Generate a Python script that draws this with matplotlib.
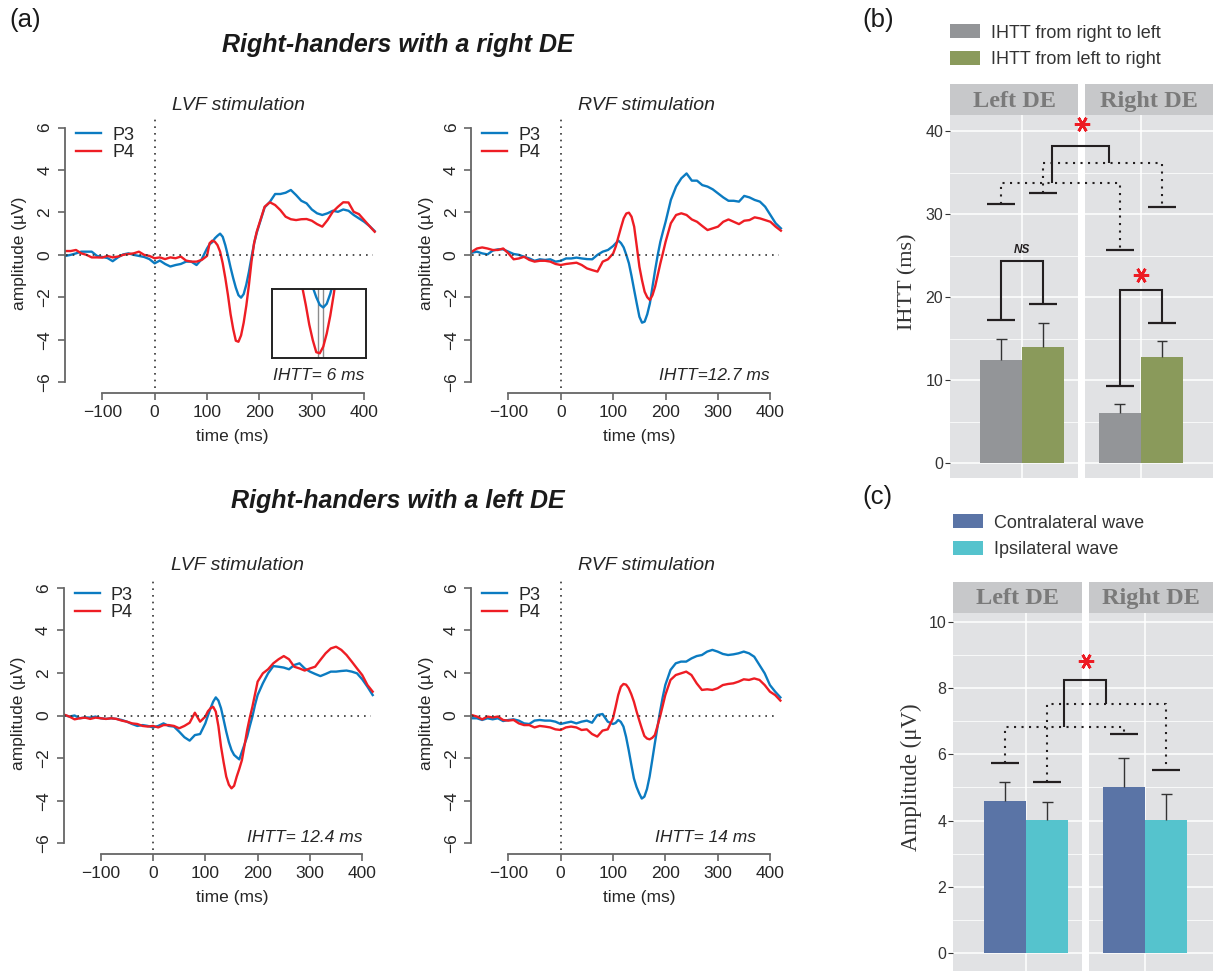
import numpy as np
import matplotlib
matplotlib.use('Agg')
import matplotlib.pyplot as plt

plt.rcParams['font.family'] = ['Liberation Sans', 'DejaVu Sans']

W, H = 1213, 971

# time axis (ms): 10 ms steps, 5 ms steps around the N1 trough
t_ms = list(range(-170, 100, 10)) + list(range(100, 205, 5)) + list(range(210, 430, 10))

# ---- ERP amplitudes (uV) ----
# right-handers, right DE, LVF stimulation
rde_lvf_p3 = [-0.05, 0.0, 0.07, 0.15, 0.15, 0.15, -0.05, -0.1, -0.15, -0.3, -0.12, 0.02, 0.07, 0.0,
              -0.05, -0.1, -0.2, -0.4, -0.27, -0.43, -0.55, -0.48, -0.43, -0.32, -0.32, -0.48, -0.2,
              0.3, 0.5, 0.6, 0.78, 0.9, 1.0, 0.85, 0.45, -0.05, -0.6, -1.1, -1.55, -1.9, -2.02, -1.85,
              -1.4, -0.8, -0.1, 0.55, 1.05, 1.45,
              2.24, 2.5, 2.87, 2.87, 2.93, 3.06, 2.82, 2.55, 2.43, 2.14, 1.96, 1.88, 1.96, 2.08, 2.03,
              2.14, 2.08, 1.88, 1.72, 1.56, 1.36, 1.12]
rde_lvf_p4 = [0.18, 0.18, 0.23, 0.07, 0.0, -0.12, -0.12, -0.13, -0.05, -0.12, -0.08, 0.0, 0.04, 0.07,
              0.15, 0.0, -0.05, -0.16, -0.12, -0.2, -0.12, -0.16, -0.08, -0.27, -0.32, -0.32, -0.24,
              -0.05, 0.55, 0.67, 0.62, 0.46, 0.15, -0.4, -1.1, -1.9, -2.8, -3.5, -4.05, -4.1, -3.8, -3.2,
              -2.4, -1.42, -0.3, 0.57, 1.1, 1.49,
              2.27, 2.48, 2.35, 2.11, 1.8, 1.68, 1.64, 1.68, 1.69, 1.61, 1.45, 1.33, 1.64, 2.03, 2.27,
              2.48, 2.47, 2.03, 1.92, 1.64, 1.36, 1.09]
# right-handers, right DE, RVF stimulation
rde_rvf_p3 = [0.1, 0.15, 0.07, 0.02, 0.2, 0.26, 0.26, 0.15, 0.04, 0.0, -0.09, -0.17, -0.28, -0.21,
              -0.24, -0.21, -0.32, -0.28, -0.17, -0.17, -0.13, -0.17, -0.2, -0.21, 0.0, 0.15, 0.23,
              0.42, 0.55, 0.67, 0.55, 0.35, 0.0, -0.4, -1.0, -1.66, -2.3, -2.92, -3.2, -3.15, -2.8, -2.29,
              -1.5, -0.72, 0.0, 0.62, 1.1, 1.56,
              2.59, 3.22, 3.61, 3.84, 3.5, 3.5, 3.29, 3.22, 3.09, 2.9, 2.71, 2.55, 2.55, 2.51, 2.78,
              2.71, 2.59, 2.51, 2.27, 1.88, 1.49, 1.25]
rde_rvf_p4 = [0.15, 0.3, 0.35, 0.3, 0.23, 0.23, 0.3, 0.07, -0.21, -0.17, -0.09, -0.24, -0.32, -0.28,
              -0.28, -0.32, -0.43, -0.48, -0.43, -0.4, -0.37, -0.48, -0.64, -0.72, -0.79, -0.32, -0.21,
              0.07, 0.4, 0.86, 1.3, 1.72, 1.95, 1.99, 1.8, 1.33, 0.4, -0.56, -1.2, -1.74, -2.0, -2.13,
              -1.9, -1.5, -0.95, -0.4, 0.1, 0.62,
              1.49, 1.88, 1.96, 1.88, 1.67, 1.56, 1.36, 1.17, 1.25, 1.33, 1.56, 1.67, 1.56, 1.45, 1.61,
              1.64, 1.77, 1.72, 1.64, 1.56, 1.33, 1.14]
# right-handers, left DE, LVF stimulation
lde_lvf_p3 = [0.02, -0.05, 0.0, -0.13, -0.09, -0.1, -0.05, -0.13, -0.16, -0.13, -0.16, -0.21, -0.29,
              -0.4, -0.49, -0.45, -0.49, -0.56, -0.49, -0.37, -0.49, -0.52, -0.76, -1.02, -1.18, -0.92,
              -0.87,
              -0.37, 0.0, 0.34, 0.65, 0.85, 0.7, 0.34, -0.2, -0.76, -1.25, -1.62, -1.85, -1.96, -2.06,
              -1.7, -1.35, -0.99, -0.5, -0.05, 0.5, 0.96,
              1.51, 1.98, 2.32, 2.29, 2.25, 2.17, 2.37, 2.45, 2.21, 2.06, 1.95, 1.85, 1.95, 2.06, 2.06,
              2.09, 2.11, 2.06, 1.98, 1.7, 1.35, 0.96]
lde_lvf_p4 = [0.04, -0.05, -0.18, -0.13, -0.1, -0.16, -0.1, -0.13, -0.16, -0.13, -0.16, -0.24, -0.29,
              -0.37, -0.4, -0.49, -0.52, -0.49, -0.56, -0.45, -0.45, -0.49, -0.6, -0.49, -0.34, 0.13,
              -0.29,
              -0.05, 0.2, 0.34, 0.41, 0.18, -0.5, -1.46, -2.2, -2.87, -3.25, -3.42, -3.3, -2.87, -2.5,
              -2.09, -1.4, -0.68, -0.1, 0.41, 1.0, 1.59,
              1.98, 2.17, 2.45, 2.64, 2.79, 2.64, 2.29, 2.21, 2.11, 2.21, 2.29, 2.61, 2.92, 3.15, 3.23,
              3.08, 2.84, 2.53, 2.21, 1.9, 1.43, 1.12]
# right-handers, left DE, RVF stimulation
lde_rvf_p3 = [-0.13, -0.13, -0.21, -0.13, -0.18, -0.13, -0.26, -0.21, -0.18, -0.24, -0.37, -0.4,
              -0.24, -0.21, -0.24, -0.24, -0.29, -0.4, -0.34, -0.29, -0.37, -0.29, -0.24, -0.34, 0.02,
              0.07, -0.29,
              -0.4, -0.35, -0.21, -0.3, -0.52, -1.0, -1.62, -2.3, -2.95, -3.35, -3.65, -3.9, -3.81,
              -3.45, -2.87, -2.1, -1.31, -0.55, 0.18, 0.85, 1.43,
              2.14, 2.45, 2.53, 2.53, 2.68, 2.79, 2.84, 3.0, 3.08, 3.0, 2.89, 2.84, 2.87, 2.92, 3.0,
              2.92, 2.76, 2.37, 1.98, 1.43, 1.12, 0.85]
lde_rvf_p4 = [0.02, -0.05, -0.18, -0.05, -0.09, -0.05, -0.21, -0.24, -0.21, -0.37, -0.45, -0.45,
              -0.56, -0.49, -0.52, -0.56, -0.65, -0.68, -0.56, -0.52, -0.56, -0.68, -0.65, -0.87,
              -0.99, -0.71, -0.65,
              -0.13, 0.4, 0.96, 1.35, 1.48, 1.45, 1.28, 1.0, 0.65, 0.2, -0.21, -0.6, -0.96, -1.08,
              -1.12, -1.05, -0.92, -0.5, -0.05, 0.45, 0.96,
              1.67, 1.9, 1.98, 2.06, 1.9, 1.51, 1.2, 1.23, 1.2, 1.28, 1.43, 1.48, 1.51, 1.59, 1.7,
              1.67, 1.74, 1.67, 1.43, 1.12, 0.96, 0.7]

ihtt_labels = ['IHTT= 6 ms', 'IHTT=12.7 ms', 'IHTT= 12.4 ms', 'IHTT= 14 ms']
inset_peaks_ms = [158, 164]      # P4 / P3 trough latencies shown in the inset

# ---- (b) IHTT bars ----
groups = ['Left DE', 'Right DE']
ihtt_r2l = [12.4, 6.0]
ihtt_r2l_err = [2.6, 1.1]
ihtt_l2r = [14.0, 12.75]
ihtt_l2r_err = [2.85, 2.0]

# ---- (c) amplitude bars ----
amp_contra = [4.59, 5.01]
amp_contra_err = [0.57, 0.87]
amp_ipsi = [4.01, 4.03]
amp_ipsi_err = [0.56, 0.76]

BLUE, RED = '#0b7bc1', '#ee1d24'
AXC, TXT = '#666666', '#262626'
PANEL_BG, STRIP_BG, STRIP_TXT = '#e1e2e4', '#c7c8ca', '#7a7a7a'
INK = '#231f20'
DOT = (0, (1, 2.6))

fig = plt.figure(figsize=(W / 100, H / 100), dpi=100)


def px_axes(l, t, r, b):
    return fig.add_axes([l / W, 1 - b / H, (r - l) / W, (b - t) / H])


def px_text(x, y, s, **kw):
    return fig.text(x / W, 1 - y / H, s, **kw)


def erp_panel(box, p3, p4):
    ax = px_axes(*box)
    ax.plot(t_ms, p3, color=BLUE, lw=1.7, label='P3')
    ax.plot(t_ms, p4, color=RED, lw=1.7, label='P4')
    ax.vlines(0, -6.3, 6.5, color='#333333', lw=1.2, ls=(0, (1, 3)))
    ax.hlines(0, -170, 416, color='#333333', lw=1.2, ls=(0, (1, 3)))
    ax.set_xlim(-171, 425)
    ax.set_ylim(-6.5, 6.5)
    for s in ['top', 'right']:
        ax.spines[s].set_visible(False)
    ax.spines['left'].set_bounds(-6, 6)
    ax.spines['bottom'].set_bounds(-100, 400)
    for s in ['left', 'bottom']:
        ax.spines[s].set_color(AXC)
        ax.spines[s].set_linewidth(1.3)
    ax.set_xticks(range(-100, 401, 100))
    ax.set_yticks(range(-6, 7, 2))
    ax.tick_params(colors=AXC, labelcolor=TXT, labelsize=12.5, length=5, width=1.2, pad=4)
    for lbl in ax.get_yticklabels():
        lbl.set_rotation(90)
        lbl.set_va('center')
    ax.legend(loc='upper left', bbox_to_anchor=(0.035, 0.965), frameon=False, fontsize=13,
              handlelength=1.4, handletextpad=0.6, labelspacing=0.02, borderpad=0,
              borderaxespad=0, labelcolor=TXT)
    ax.patch.set_alpha(0)
    return ax


# ---- panel (a): four ERP plots ----
erp_boxes = [(65, 117.05, 377.3, 392.65), (471.2, 117.05, 783.5, 392.65),
             (63.6, 577.05, 375.3, 853.95), (471.2, 577.05, 783.0, 853.95)]
erp_data = [(rde_lvf_p3, rde_lvf_p4), (rde_rvf_p3, rde_rvf_p4),
            (lde_lvf_p3, lde_lvf_p4), (lde_rvf_p3, lde_rvf_p4)]
titles = ['LVF stimulation', 'RVF stimulation', 'LVF stimulation', 'RVF stimulation']
title_xy = [(238.7, 105), (646.7, 105), (237.7, 565), (646, 565)]
xlab_xy = [(232, 436.7), (639.3, 436.7), (232, 897), (639.3, 897)]
ylab_xy = [(20, 253), (426.7, 253), (19, 713), (426.7, 713)]
ihtt_xy = [(364, 376), (770, 376), (362.7, 837.7), (756, 837.7)]

erp_axes = []
for box, (p3, p4), ttl, txy, xl, yl, ih, ihxy in zip(erp_boxes, erp_data, titles, title_xy,
                                                      xlab_xy, ylab_xy, ihtt_labels, ihtt_xy):
    ax = erp_panel(box, p3, p4)
    erp_axes.append(ax)
    px_text(*txy, ttl, ha='center', va='center', fontsize=14, style='italic', color=TXT)
    px_text(*xl, 'time (ms)', ha='center', va='center', fontsize=12.5, color=TXT)
    px_text(*yl, 'amplitude (µV)', ha='center', va='center', fontsize=12.5, color=TXT, rotation=90)
    px_text(*ihxy, ih, ha='right', va='center', fontsize=12.5, style='italic', color=TXT)

# zoomed inset on the N1 trough (right DE, LVF)
ins = px_axes(272, 289, 365.7, 357.7)
ins.plot(t_ms, rde_lvf_p3, color=BLUE, lw=1.7)
ins.plot(t_ms, rde_lvf_p4, color=RED, lw=1.7)
for tp in inset_peaks_ms:
    ins.axvline(tp, color='#8c8c8c', lw=1.0, zorder=0)
ins.set_xlim(91.7, 225.7)
ins.set_ylim(-4.3, -1.18)
ins.set_xticks([])
ins.set_yticks([])
for s in ins.spines.values():
    s.set_linewidth(1.4)
    s.set_color('#222222')

px_text(398, 45, 'Right-handers with a right DE', ha='center', va='center', fontsize=18,
        weight='bold', style='italic', color='#1a1a1a')
px_text(398, 501, 'Right-handers with a left DE', ha='center', va='center', fontsize=18,
        weight='bold', style='italic', color='#1a1a1a')
px_text(25, 20, '(a)', ha='center', va='center', fontsize=18.5, color='#1a1a1a')
px_text(878, 20, '(b)', ha='center', va='center', fontsize=18.5, color='#1a1a1a')
px_text(877, 497, '(c)', ha='center', va='center', fontsize=18.5, color='#1a1a1a')


def bracket(ax, x1, x2, y1, y2, top, ls='-', caps=True):
    if caps:
        ax.hlines([y1, y2], [x1 - 0.117, x2 - 0.117], [x1 + 0.117, x2 + 0.117], color=INK, lw=1.6)
    ax.plot([x1, x1, x2, x2], [y1, top, top, y2], color=INK, lw=1.5, ls=ls,
            solid_joinstyle='miter', solid_capstyle='butt')


def star(ax, x, y):
    ax.plot([x], [y], ls='none', marker=(6, 2, 90), ms=11, mew=1.9, mec='#ed1c24')


def bar_panel(box, xlim, ylim, gap, major, minor, s1, s2, colors):
    ax = px_axes(*box)
    ax.set_facecolor(PANEL_BG)
    ax.set_xlim(*xlim)
    ax.set_ylim(*ylim)
    ax.set_yticks(major)
    ax.set_yticks(minor, minor=True)
    ax.set_xticks([1, 2])
    ax.set_xticklabels([])
    ax.tick_params(axis='x', length=0)
    ax.tick_params(axis='y', which='major', length=3.5, width=0.8, color='#333333',
                   labelcolor='#333333', labelsize=11.5, pad=1.5)
    ax.tick_params(axis='y', which='minor', length=0)
    ax.grid(which='major', color='white', lw=1.1)
    ax.grid(which='minor', axis='y', color='white', lw=0.55)
    ax.set_axisbelow(True)
    for s in ax.spines.values():
        s.set_visible(False)
    xc = np.arange(1, len(groups) + 1)
    bw = 0.354
    vals1, err1, lab1 = s1
    vals2, err2, lab2 = s2
    for off, vals, err, lab, col in [(-bw / 2, vals1, err1, lab1, colors[0]),
                                     (bw / 2, vals2, err2, lab2, colors[1])]:
        xs = xc + off
        ax.bar(xs, vals, width=bw, color=col, label=lab, zorder=2)
        tops = np.array(vals) + np.array(err)
        ax.vlines(xs, vals, tops, color='#333333', lw=1.0, zorder=3)
        ax.hlines(tops, xs - 0.046, xs + 0.046, color='#333333', lw=1.0, zorder=3)
    ax.axvspan(gap[0], gap[1], color='white', lw=0, zorder=1.5)
    return ax


def strips(boxes):
    for bx, name in zip(boxes, groups):
        sa = px_axes(*bx)
        sa.set_facecolor(STRIP_BG)
        sa.set_xticks([])
        sa.set_yticks([])
        for s in sa.spines.values():
            s.set_visible(False)
        sa.text(0.5, 0.45, name, transform=sa.transAxes, ha='center', va='center',
                family='Liberation Serif', weight='bold', fontsize=17.5, color=STRIP_TXT)


# ---- panel (b) ----
axb = bar_panel((950, 115, 1213, 478), (0.391, 2.607), (-1.77, 41.93), (1.472, 1.528),
                [0, 10, 20, 30, 40], [5, 15, 25, 35],
                (ihtt_r2l, ihtt_r2l_err, 'IHTT from right to left'),
                (ihtt_l2r, ihtt_l2r_err, 'IHTT from left to right'),
                ['#939598', '#8a9a5b'])
strips([(950, 84, 1078.3, 115), (1085, 84, 1213, 115)])
bracket(axb, 0.823, 1.177, 17.3, 19.2, 24.3)
bracket(axb, 1.823, 2.177, 9.35, 16.9, 20.9)
bracket(axb, 0.823, 1.823, 31.2, 25.7, 33.7, ls=DOT)
bracket(axb, 1.177, 2.177, 32.6, 30.9, 36.2, ls=DOT)
bracket(axb, 1.248, 1.73, 33.7, 36.2, 38.2, caps=False)
axb.text(1.0, 25.7, 'NS', ha='center', va='center', fontsize=8.5, weight='bold', style='italic',
         color=INK)
star(axb, 1.5, 40.8)
star(axb, 2.0, 22.65)
axb.legend(loc='upper left', bbox_to_anchor=(0.0, 1.25), frameon=False, fontsize=13,
           handlelength=1.67, handleheight=0.83, handletextpad=0.6, labelspacing=0.5,
           borderpad=0, borderaxespad=0, labelcolor='#333333')
px_text(908, 281.7, 'IHTT (ms)', ha='center', va='center', rotation=90, fontsize=16,
        family='Liberation Serif', color='#333333')

# ---- panel (c) ----
axc = bar_panel((953.3, 612.7, 1213, 971), (0.389, 2.571), (-0.534, 10.27), (1.473, 1.529),
                [0, 2, 4, 6, 8, 10], [1, 3, 5, 7, 9],
                (amp_contra, amp_contra_err, 'Contralateral wave'),
                (amp_ipsi, amp_ipsi_err, 'Ipsilateral wave'),
                ['#5a74a6', '#55c3cd'])
strips([(953.3, 581.7, 1082.3, 612.7), (1089, 581.7, 1213, 612.7)])
bracket(axc, 0.823, 1.823, 5.75, 6.61, 6.83, ls=DOT)
bracket(axc, 1.177, 2.177, 5.17, 5.53, 7.51, ls=DOT)
bracket(axc, 1.319, 1.674, 6.83, 7.51, 8.24, caps=False)
star(axc, 1.5, 8.81)
axc.legend(loc='upper left', bbox_to_anchor=(0.0, 1.275), frameon=False, fontsize=13,
           handlelength=1.67, handleheight=0.83, handletextpad=0.6, labelspacing=0.5,
           borderpad=0, borderaxespad=0, labelcolor='#333333')
px_text(911.7, 776.7, 'Amplitude (μV)', ha='center', va='center', rotation=90, fontsize=16.5,
        family='Liberation Serif', color='#333333')

fig.savefig('out.png', dpi=100)
